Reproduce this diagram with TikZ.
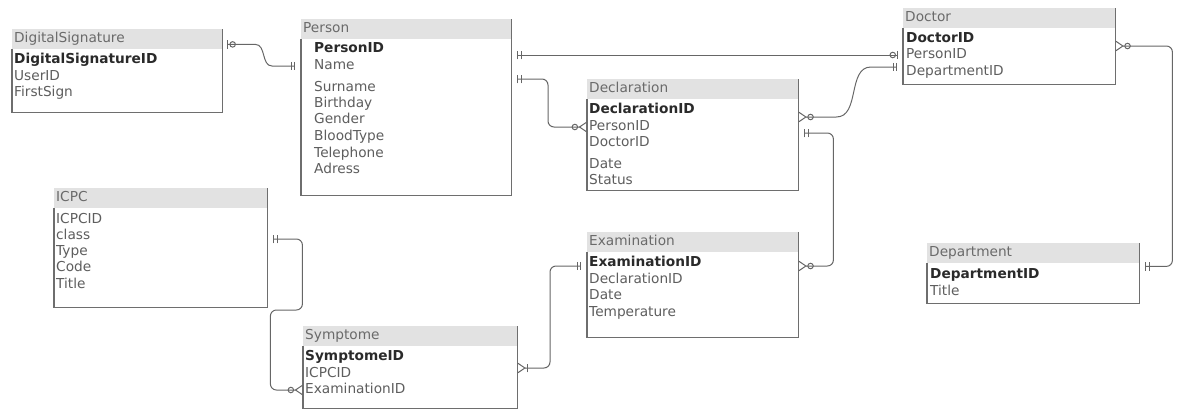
\documentclass[tikz,border=0pt]{standalone}
\usepackage{fontspec}
\setmainfont{DejaVu Sans}
\usepackage{xcolor}
\usepackage{tikz}
\usetikzlibrary{arrows.meta,positioning,calc}
\definecolor{headfill}{HTML}{E2E2E2}
\definecolor{frameline}{HTML}{6E6E6E}
\definecolor{headtext}{HTML}{6A6A6A}
\definecolor{fieldtext}{HTML}{5E5E5E}
\definecolor{keytext}{HTML}{2A2A2A}
\definecolor{linkline}{HTML}{666666}
\tikzset{
  erOne/.tip={Bar[width=8.5pt,sep=2.5pt] Bar[width=8.5pt,sep=6pt]},
  erZeroOne/.tip={Circle[open,length=6.5pt,sep=1pt] Bar[width=8.5pt,sep=5pt]},
  erZeroMany/.tip={Circle[open,length=6.5pt,sep=0.5pt] Straight Barb[reversed,length=7pt,width=9.5pt]},
  erOneMany/.tip={Bar[width=8.5pt,sep=1pt] Straight Barb[reversed,length=7pt,width=9.5pt]},
  headbox/.style={fill=headfill, anchor=north west, inner xsep=2pt, inner ysep=0pt, minimum height=20pt, align=left, text=headtext, text height=10pt, text depth=3pt},
  bodybox/.style={fill=white, inner sep=0pt},
  frame/.style={draw=frameline, line width=1.1pt},
  field/.style={anchor=west, inner sep=0pt, text=fieldtext, text height=10pt, text depth=3pt},
  keyfield/.style={field, text=keytext, font=\fontsize{13.7pt}{16pt}\selectfont\bfseries},
  link/.style={draw=linkline, line width=1pt}
}

\begin{document}
\begin{tikzpicture}[x=1pt, y=1pt, font=\fontsize{13.7pt}{16pt}\selectfont]
  \useasboundingbox (0,0) rectangle (1184,-410);
  % DigitalSignature
  \node[headbox, text width=206pt] (signH) at (12,-29) {DigitalSignature};
  \node[bodybox, minimum width=210pt, minimum height=63pt, below=0pt of signH] (sign) {};
  \draw[frame] (sign.north west) |- (sign.south east) -- (signH.north east);
  \node[keyfield] (sign-1) at (14,-60) {DigitalSignatureID};
  \foreach \f/\y [count=\i from 2] in {UserID/77, FirstSign/93}
    \node[field] (sign-\i) at (14,-\y) {\f};
  % Person
  \node[headbox, text width=206pt] (personH) at (301,-19) {Person};
  \node[bodybox, minimum width=210pt, minimum height=156pt, below=0pt of personH] (person) {};
  \draw[frame] (person.north west) |- (person.south east) -- (personH.north east);
  \node[keyfield] (person-1) at (314,-49) {PersonID};
  \foreach \f/\y [count=\i from 2] in {Name/66, Surname/88, Birthday/104, Gender/120, BloodType/137, Telephone/154, Adress/170}
    \node[field] (person-\i) at (314,-\y) {\f};
  % Declaration
  \node[headbox, text width=207pt] (declH) at (587,-79) {Declaration};
  \node[bodybox, minimum width=211pt, minimum height=91pt, below=0pt of declH] (decl) {};
  \draw[frame] (decl.north west) |- (decl.south east) -- (declH.north east);
  \node[keyfield] (decl-1) at (589,-110) {DeclarationID};
  \foreach \f/\y [count=\i from 2] in {PersonID/127, DoctorID/143, Date/165, Status/181}
    \node[field] (decl-\i) at (589,-\y) {\f};
  % Doctor
  \node[headbox, text width=208pt] (doctorH) at (903,-8) {Doctor};
  \node[bodybox, minimum width=212pt, minimum height=56pt, below=0pt of doctorH] (doctor) {};
  \draw[frame] (doctor.north west) |- (doctor.south east) -- (doctorH.north east);
  \node[keyfield] (doctor-1) at (906,-39) {DoctorID};
  \foreach \f/\y [count=\i from 2] in {PersonID/55, DepartmentID/72}
    \node[field] (doctor-\i) at (906,-\y) {\f};
  % ICPC
  \node[headbox, text width=209pt] (icpcH) at (54,-188) {ICPC};
  \node[bodybox, minimum width=213pt, minimum height=99pt, below=0pt of icpcH] (icpc) {};
  \draw[frame] (icpc.north west) |- (icpc.south east) -- (icpcH.north east);
  \foreach \f/\y [count=\i] in {ICPCID/220, class/236, Type/252, Code/268, Title/285}
    \node[field] (icpc-\i) at (56,-\y) {\f};
  % Symptome
  \node[headbox, text width=210pt] (symptH) at (303,-326) {Symptome};
  \node[bodybox, minimum width=214pt, minimum height=62pt, below=0pt of symptH] (sympt) {};
  \draw[frame] (sympt.north west) |- (sympt.south east) -- (symptH.north east);
  \node[keyfield] (sympt-1) at (305,-357) {SymptomeID};
  \foreach \f/\y [count=\i from 2] in {ICPCID/374, ExaminationID/390}
    \node[field] (sympt-\i) at (305,-\y) {\f};
  % Examination
  \node[headbox, text width=207pt] (examH) at (587,-232) {Examination};
  \node[bodybox, minimum width=211pt, minimum height=85pt, below=0pt of examH] (exam) {};
  \draw[frame] (exam.north west) |- (exam.south east) -- (examH.north east);
  \node[keyfield] (exam-1) at (589,-263) {ExaminationID};
  \foreach \f/\y [count=\i from 2] in {DeclarationID/280, Date/296, Temperature/313}
    \node[field] (exam-\i) at (589,-\y) {\f};
  % Department
  \node[headbox, text width=208pt] (deptH) at (927,-243) {Department};
  \node[bodybox, minimum width=212pt, minimum height=40pt, below=0pt of deptH] (dept) {};
  \draw[frame] (dept.north west) |- (dept.south east) -- (deptH.north east);
  \node[keyfield] (dept-1) at (930,-275) {DepartmentID};
  \node[field] (dept-2) at (930,-292) {Title};
  % relations
  \draw[link, arrows={erZeroOne-erOne}] ($(signH.south east)+(0,5)$) -- ++(33,0)
    to[out=0,in=180] ($(person.west |- person-2)+(-29,0)$) -- (person.west |- person-2);
  \draw[link, arrows={erOne-erZeroOne}] (person.east |- doctor-2) -- (doctor.west |- doctor-2);
  \draw[link, rounded corners=6pt, arrows={erOne-erZeroMany}] ($(person.east |- person-2)+(0,-13)$)
    -| ($(decl.west |- decl-2)+(-39,0)$) -- (decl.west |- decl-2);
  \draw[link, arrows={erZeroMany-erOne}] ($(decl.east |- decl-1)+(0,-7)$) -- ++(38,0)
    to[out=0,in=180] ($(doctor.west |- doctor-3)+(-32,5)$) -- ($(doctor.west |- doctor-3)+(0,5)$);
  \draw[link, rounded corners=6pt, arrows={erOne-erZeroMany}] ($(decl.east |- decl-2)+(0,-6)$)
    -| ($(exam.east |- exam-1)+(35,-3)$) -- ($(exam.east |- exam-1)+(0,-3)$);
  \draw[link, rounded corners=6pt, arrows={erZeroMany-erOne}] ($(doctor.east |- doctor-1)+(0,-7)$)
    -| ($(dept.north east)+(33,-3)$) -- ($(dept.north east)+(0,-3)$);
  \draw[link, rounded corners=6pt, arrows={erOne-erZeroMany}] ($(icpc.east |- icpc-2)+(0,-3)$)
    -- ++(35,0) -- ++(0,-71) -- ++(-32,0) |- (sympt.west |- sympt-3);
  \draw[link, rounded corners=6pt, arrows={erOneMany-erOne}] ($(sympt.east |- sympt-2)+(0,6)$)
    -| ($(exam.west |- exam-1)+(-37,-3)$) -- ($(exam.west |- exam-1)+(0,-3)$);
\end{tikzpicture}
\end{document}
